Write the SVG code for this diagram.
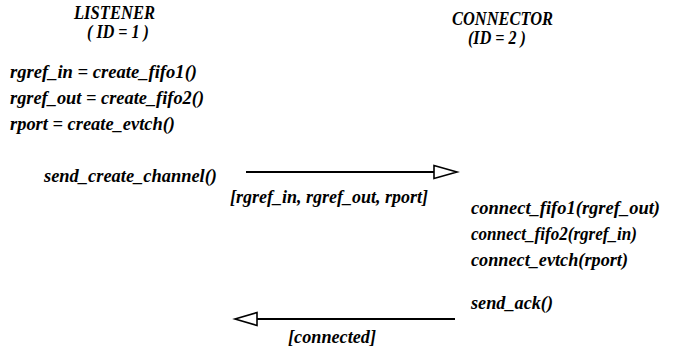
<svg xmlns="http://www.w3.org/2000/svg" width="673" height="350" viewBox="0 0 673 350">
<defs>
<style>
text{font-family:"Liberation Serif","Times New Roman",serif;font-weight:bold;font-style:italic;font-size:19px;fill:#000}
.ln{stroke:#000;stroke-width:2;fill:none}
.ah{stroke:#000;stroke-width:1.6;fill:#fff}
</style>
</defs>
<rect width="673" height="350" fill="#fff"/>
<g id="listener">
<text x="74" y="19" textLength="81" lengthAdjust="spacingAndGlyphs">LISTENER</text>
<text x="87" y="38" textLength="62" lengthAdjust="spacingAndGlyphs">( ID = 1 )</text>
<text x="10" y="78" textLength="187" lengthAdjust="spacingAndGlyphs">rgref_in = create_fifo1()</text>
<text x="10" y="104" textLength="194" lengthAdjust="spacingAndGlyphs">rgref_out = create_fifo2()</text>
<text x="10" y="130" textLength="165" lengthAdjust="spacingAndGlyphs">rport = create_evtch()</text>
<text x="44" y="182" textLength="173" lengthAdjust="spacingAndGlyphs">send_create_channel()</text>
</g>
<g id="connector">
<text x="452" y="25" textLength="101" lengthAdjust="spacingAndGlyphs">CONNECTOR</text>
<text x="468" y="44" textLength="58" lengthAdjust="spacingAndGlyphs">(ID = 2 )</text>
<text x="471" y="214" textLength="189" lengthAdjust="spacingAndGlyphs">connect_fifo1(rgref_out)</text>
<text x="471" y="240" textLength="166" lengthAdjust="spacingAndGlyphs">connect_fifo2(rgref_in)</text>
<text x="471" y="266" textLength="157" lengthAdjust="spacingAndGlyphs">connect_evtch(rport)</text>
<text x="471" y="309" textLength="82" lengthAdjust="spacingAndGlyphs">send_ack()</text>
</g>
<g id="connectors">
<line class="ln" x1="246" y1="172" x2="434" y2="172"/>
<polygon class="ah" points="434,165.5 457,172 434,178.5"/>
<text x="230" y="203" textLength="198" lengthAdjust="spacingAndGlyphs">[rgref_in, rgref_out, rport]</text>
<line class="ln" x1="256" y1="319" x2="455" y2="319"/>
<polygon class="ah" points="257,312.5 235,319 257,325.5"/>
<text x="288" y="343" textLength="88" lengthAdjust="spacingAndGlyphs">[connected]</text>
</g>
</svg>
